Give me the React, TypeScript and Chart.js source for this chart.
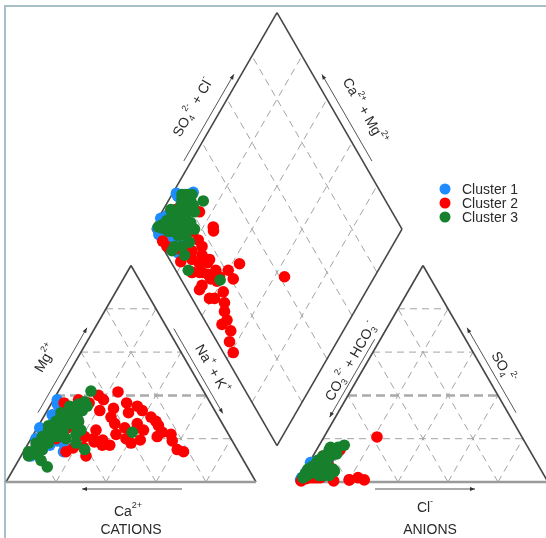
import React, { useEffect, useRef } from 'react';
import { Chart, registerables } from 'chart.js';

Chart.register(...registerables);

// ---------- DATA (milliequivalent percentages) ----------
// Cluster 1
const c1Mg = [36, 24, 14, 30, 20, 27, 33, 17, 22, 12, 28, 38, 25, 19, 31, 15, 26, 21, 34, 18];
const c1NaK = [2.5, 3, 16, 4, 2, 6, 5, 9, 12, 4, 8, 1.5, 1, 11, 3, 7, 10, 5, 7, 14];
const c1SO4 = [12, 9, 3, 6, 2, 10, 14, 4, 8, 1, 16, 12, 5, 3, 11, 2, 6, 9, 13, 4];
const c1Cl = [6, 0.5, 2, 4, 0.5, 3, 7, 1, 5, 0.5, 9, 6, 1, 3, 7, 1, 2, 1.5, 8, 4];

// Cluster 2
const c2Mg = [41.6, 36.5, 23, 30, 18.5, 19.4, 19.4, 15.7, 36.5, 30, 33, 27, 36.5, 14, 15, 21, 25, 22, 34, 38, 32, 28, 26, 20, 24, 17, 12, 14, 31, 38, 28, 23, 27, 35, 24, 18, 33, 40, 16, 21, 20, 17, 25, 22, 19, 30, 20, 25];
const c2NaK = [24, 30, 51, 43, 26, 29, 44, 19, 15, 27, 21, 39, 5, 64, 61, 50, 35, 33, 26, 20, 33, 46, 48, 38, 24, 33, 26, 17, 12, 10, 15, 18, 30, 35, 43, 41, 38, 17, 23, 21, 25, 30, 40, 55, 57, 7, 10, 12];
const c2SO4 = [2, 4, 4, 1, 3, 5, 1, 2, 14, 6, 7, 3, 10, 20.8, 1.5, 3, 5, 2, 8, 6, 4, 6, 2, 4, 8, 3, 2, 5, 9, 11, 4, 6, 9, 7, 5, 2, 8, 12, 4, 10, 14.8, 0.5, 1, 2, 3, 0.5, 1, 2];
const c2Cl = [23, 6, 5, 26, 3, 4, 20, 2, 9, 5, 4, 4, 4, 21.2, 2.5, 3, 7, 5, 6, 3, 8, 6, 8, 10, 8, 2, 4, 3, 5, 6, 2, 4, 7, 9, 9, 7, 8, 4, 5, 6, 9.4, 14, 20, 6, 2, 1, 1, 1];

// Cluster 3
const c3Mg = [12, 13, 14, 15, 16, 17, 18, 18, 19, 20, 21, 21, 22, 23, 24, 24, 25, 26, 26, 27, 28, 28, 29, 30, 30, 31, 32, 32, 33, 34, 34, 35, 35, 36, 37, 22, 25, 20, 18, 28, 31, 24, 42, 23, 15, 7, 10];
const c3NaK = [3, 5, 2, 7, 4, 6, 3, 8, 5, 7, 4, 10, 6, 8, 5, 11, 7, 9, 4, 12, 8, 6, 10, 7, 13, 9, 11, 6, 14, 10, 12, 8, 15, 11, 13, 17, 16, 14, 19, 15, 13, 18, 13, 39, 24, 13, 9];
const c3SO4 = [4, 8, 2, 4, 6, 12, 9, 5, 13, 3, 3, 5, 15, 5, 5, 14, 4, 7, 14, 6, 16, 3, 12, 4, 10, 13, 3, 10, 17, 5, 12, 6, 9, 15, 3, 5, 5, 6, 4, 3, 16, 3, 9, 10, 3, 2, 7];
const c3Cl = [1, 3, 1, 10, 2, 5, 3, 2, 6, 7, 1.5, 12, 7, 9, 3, 8, 11, 4, 6, 3, 8, 7, 7, 2, 5, 9, 11, 3, 10, 4, 4, 1, 7, 5, 2, 12, 3, 11, 3, 9, 5, 9, 4, 5.5, 2, 1, 2];

const clusterNames = ['Cluster 1', 'Cluster 2', 'Cluster 3'];
const clusterColors = ['#1e8cff', '#ff0000', '#17802d'];

// Axis label texts: [text, kind] where kind '' | 'sup' | 'sub'
const lblMg: [string, string][] = [['Mg', ''], ['2+', 'sup']];
const lblNaK: [string, string][] = [['Na', ''], ['+', 'sup'], [' + K', ''], ['+', 'sup']];
const lblCa: [string, string][] = [['Ca', ''], ['2+', 'sup']];
const lblCations: [string, string][] = [['CATIONS', '']];
const lblHCO3: [string, string][] = [['CO', ''], ['3', 'sub'], ['2-', 'sup'], [' + HCO', ''], ['3', 'sub'], ['-', 'sup']];
const lblSO4: [string, string][] = [['SO', ''], ['4', 'sub'], ['2-', 'sup']];
const lblCl: [string, string][] = [['Cl', ''], ['-', 'sup']];
const lblAnions: [string, string][] = [['ANIONS', '']];
const lblSO4Cl: [string, string][] = [['SO', ''], ['4', 'sub'], ['2-', 'sup'], [' + Cl', ''], ['-', 'sup']];
const lblCaMg: [string, string][] = [['Ca', ''], ['2+', 'sup'], [' + Mg', ''], ['2+', 'sup']];

const gridSteps = [20, 40, 60, 80];

// ---------- GEOMETRY ----------
const SIDE = 100;
const GAP = 16.8;
const H = (SIDE * Math.sqrt(3)) / 2;
const X_MIN = -2.4, X_MAX = 216, Y_MIN = -22.4, Y_MAX = 192.8;

const cationXY = (mg: number, nak: number) => ({ x: nak + mg / 2, y: (mg * H) / 100 });
const anionXY = (so4: number, cl: number) => ({ x: SIDE + GAP + cl + so4 / 2, y: (so4 * H) / 100 });
const diamondXY = (camg: number, so4cl: number) => ({
  x: SIDE + GAP / 2 - camg / 2 + so4cl / 2,
  y: (GAP * Math.sqrt(3)) / 2 + ((camg + so4cl) * H) / 100,
});

function buildPoints(mg: number[], nak: number[], so4: number[], cl: number[]) {
  const pts: { x: number; y: number }[] = [];
  for (let i = 0; i < mg.length; i++) {
    pts.push(cationXY(mg[i], nak[i]));
    pts.push(anionXY(so4[i], cl[i]));
    pts.push(diamondXY(100 - nak[i], so4[i] + cl[i]));
  }
  return pts;
}

const FONT = '"Liberation Sans", Arial, Helvetica, sans-serif';
const TEXT_COLOR = '#2a2a2a';

type P = { x: number; y: number };

function drawRich(ctx: CanvasRenderingContext2D, segs: [string, string][], cx: number, cy: number, ang: number, size: number) {
  ctx.save();
  ctx.translate(cx, cy);
  ctx.rotate(ang);
  ctx.textBaseline = 'middle';
  ctx.textAlign = 'left';
  ctx.fillStyle = TEXT_COLOR;
  const small = Math.round(size * 0.64);
  const widths = segs.map(([t, k]) => {
    ctx.font = `${k ? small : size}px ${FONT}`;
    return ctx.measureText(t).width;
  });
  let x = -widths.reduce((a, b) => a + b, 0) / 2;
  segs.forEach(([t, k], i) => {
    ctx.font = `${k ? small : size}px ${FONT}`;
    const dy = k === 'sup' ? -size * 0.45 : k === 'sub' ? size * 0.32 : 0;
    ctx.fillText(t, x, dy);
    x += widths[i];
  });
  ctx.restore();
}

const piperPlugin = {
  id: 'piperFrame',
  beforeDatasetsDraw(chart: any) {
    const { ctx, scales } = chart;
    const px = (u: P): P => ({ x: scales.x.getPixelForValue(u.x), y: scales.y.getPixelForValue(u.y) });
    const line = (a: P, b: P) => {
      const pa = px(a), pb = px(b);
      ctx.beginPath();
      ctx.moveTo(pa.x, pa.y);
      ctx.lineTo(pb.x, pb.y);
      ctx.stroke();
    };
    ctx.save();
    // dashed grids
    ctx.strokeStyle = '#a3a3a3';
    ctx.lineWidth = 1;
    ctx.setLineDash([7, 5]);
    gridSteps.forEach((k) => {
      line(cationXY(0, k), cationXY(100 - k, k));
      line(cationXY(0, 100 - k), cationXY(100 - k, 0));
      line(anionXY(0, k), anionXY(100 - k, k));
      line(anionXY(0, 100 - k), anionXY(100 - k, 0));
      line(diamondXY(k, 0), diamondXY(k, 100));
      line(diamondXY(0, k), diamondXY(100, k));
      if (k !== 40) {
        line(cationXY(k, 0), cationXY(k, 100 - k));
        line(anionXY(k, 0), anionXY(k, 100 - k));
      }
    });
    ctx.lineWidth = 2.5;
    ctx.strokeStyle = '#aaaaaa';
    ctx.setLineDash([9, 5]);
    line(cationXY(40, 0), cationXY(40, 60));
    line(anionXY(40, 0), anionXY(40, 60));
    ctx.setLineDash([]);
    // outlines
    ctx.strokeStyle = '#464646';
    ctx.lineWidth = 1.6;
    line(cationXY(0, 0), cationXY(100, 0));
    line(cationXY(100, 0), cationXY(0, 100));
    line(anionXY(0, 0), anionXY(100, 0));
    line(anionXY(100, 0), anionXY(0, 100));
    line(diamondXY(100, 0), diamondXY(100, 100));
    line(diamondXY(100, 100), diamondXY(0, 100));
    line(diamondXY(0, 100), diamondXY(0, 0));
    line(diamondXY(0, 0), diamondXY(100, 0));
    ctx.strokeStyle = '#9a9a9a';
    ctx.lineWidth = 2.6;
    line(cationXY(0, 0), cationXY(0, 100));
    line(anionXY(0, 0), anionXY(0, 100));
    ctx.restore();
  },
  afterDatasetsDraw(chart: any) {
    const { ctx, scales, chartArea } = chart;
    const px = (u: P): P => ({ x: scales.x.getPixelForValue(u.x), y: scales.y.getPixelForValue(u.y) });
    const frame = (a: P, b: P) => {
      const p0 = px(a), p1 = px(b);
      const L = Math.hypot(p1.x - p0.x, p1.y - p0.y);
      const d = { x: (p1.x - p0.x) / L, y: (p1.y - p0.y) / L };
      const n = { x: d.y, y: -d.x };
      const m = { x: (p0.x + p1.x) / 2, y: (p0.y + p1.y) / 2 };
      return { d, n, m };
    };
    const label = (a: P, b: P, segs: [string, string][], perp: number, along: number) => {
      const { d, n, m } = frame(a, b);
      drawRich(ctx, segs, m.x + d.x * along + n.x * perp, m.y + d.y * along + n.y * perp, Math.atan2(d.y, d.x), 14);
    };
    const arrow = (a: P, b: P, perp: number, along: number, len: number, headEnd: boolean) => {
      const { d, n, m } = frame(a, b);
      const c = { x: m.x + d.x * along + n.x * perp, y: m.y + d.y * along + n.y * perp };
      const s = { x: c.x - (d.x * len) / 2, y: c.y - (d.y * len) / 2 };
      const e = { x: c.x + (d.x * len) / 2, y: c.y + (d.y * len) / 2 };
      ctx.save();
      ctx.strokeStyle = '#555';
      ctx.fillStyle = '#333';
      ctx.lineWidth = 1;
      ctx.beginPath();
      ctx.moveTo(s.x, s.y);
      ctx.lineTo(e.x, e.y);
      ctx.stroke();
      const tip = headEnd ? e : s;
      const sg = headEnd ? 1 : -1;
      const bx = tip.x - sg * d.x * 5, by = tip.y - sg * d.y * 5;
      ctx.beginPath();
      ctx.moveTo(tip.x, tip.y);
      ctx.lineTo(bx + n.x * 2, by + n.y * 2);
      ctx.lineTo(bx - n.x * 2, by - n.y * 2);
      ctx.closePath();
      ctx.fill();
      ctx.restore();
    };

    // cation triangle
    const cBL = cationXY(0, 0), cTop = cationXY(100, 0), cBR = cationXY(0, 100);
    label(cBL, cTop, lblMg, 27, 2);
    arrow(cBL, cTop, 7, 0, 98, true);
    label(cTop, cBR, lblNaK, 18, 5);
    arrow(cTop, cBR, 5.5, 0, 98, true);
    label(cBL, cBR, lblCa, -30, -3);
    label(cBL, cBR, lblCations, -48, 0);
    arrow(cBL, cBR, -7, 1, 100, false);

    // anion triangle
    const aBL = anionXY(0, 0), aTop = anionXY(100, 0), aBR = anionXY(0, 100);
    label(aBL, aTop, lblHCO3, 14, 6);
    arrow(aBL, aTop, 5, -8, 90, false);
    label(aTop, aBR, lblSO4, 18, 3);
    arrow(aTop, aBR, 7, 0, 98, false);
    label(aBL, aBR, lblCl, -26, 2);
    label(aBL, aBR, lblAnions, -48, 7);
    arrow(aBL, aBR, -7, 2, 100, true);

    // diamond
    const dL = diamondXY(100, 0), dT = diamondXY(100, 100), dR = diamondXY(0, 100);
    label(dL, dT, lblSO4Cl, 25, 1);
    arrow(dL, dT, 6.5, 0, 100, true);
    label(dT, dR, lblCaMg, 26, 4);
    arrow(dT, dR, 8, 1, 100, false);

    // legend
    ctx.save();
    const lx = chartArea.right - 101;
    clusterNames.forEach((name, i) => {
      const ly = chartArea.top + 189 + i * 14;
      ctx.fillStyle = clusterColors[i];
      ctx.beginPath();
      ctx.arc(lx, ly, 5.5, 0, Math.PI * 2);
      ctx.fill();
      ctx.fillStyle = TEXT_COLOR;
      ctx.font = `14px ${FONT}`;
      ctx.textBaseline = 'middle';
      ctx.textAlign = 'left';
      ctx.fillText(name, lx + 17, ly + 1);
    });
    ctx.restore();
  },
};

export default function App() {
  const ref = useRef<HTMLCanvasElement | null>(null);
  useEffect(() => {
    if (!ref.current) return;
    const sets = [
      [c1Mg, c1NaK, c1SO4, c1Cl],
      [c2Mg, c2NaK, c2SO4, c2Cl],
      [c3Mg, c3NaK, c3SO4, c3Cl],
    ];
    const chart = new Chart(ref.current, {
      type: 'scatter',
      data: {
        datasets: sets.map((s, i) => ({
          label: clusterNames[i],
          data: buildPoints(s[0], s[1], s[2], s[3]),
          backgroundColor: clusterColors[i],
          borderColor: clusterColors[i],
          pointRadius: 5.8,
          pointHoverRadius: 5.8,
          borderWidth: 0,
          order: 3 - i,
          clip: false,
        })),
      },
      options: {
        animation: false,
        responsive: false,
        maintainAspectRatio: false,
        layout: { padding: 0, autoPadding: false },
        events: [],
        plugins: { legend: { display: false }, tooltip: { enabled: false }, title: { display: false } },
        scales: {
          x: { type: 'linear', min: X_MIN, max: X_MAX, display: false },
          y: { type: 'linear', min: Y_MIN, max: Y_MAX, display: false },
        },
      },
      plugins: [piperPlugin],
    } as any);
    return () => chart.destroy();
  }, []);

  return (
    <div style={{ position: 'fixed', left: 0, top: 0, width: 546, height: 538, background: '#fff' }}>
      <div
        style={{
          position: 'absolute',
          left: 4,
          top: 5,
          right: 0,
          bottom: 0,
          borderTop: '2px solid #a9bec6',
          borderLeft: '2px solid #a9bec6',
        }}
      />
      <canvas ref={ref} width={546} height={538} style={{ position: 'absolute', left: 0, top: 0, width: 546, height: 538 }} />
    </div>
  );
}
